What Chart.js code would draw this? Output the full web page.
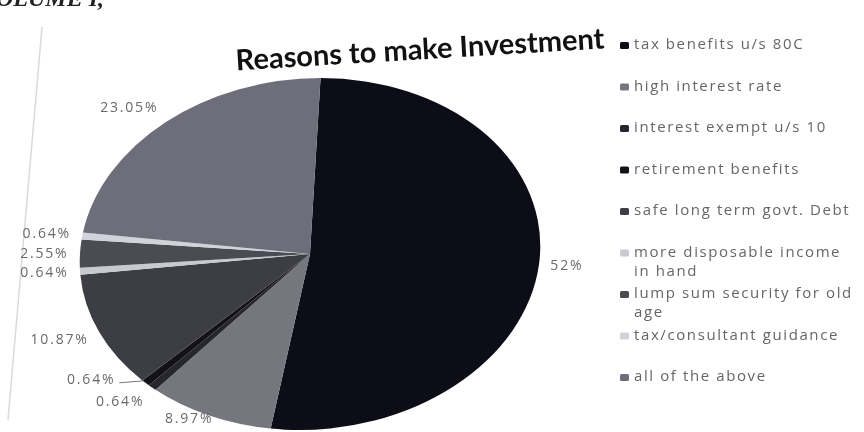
<!DOCTYPE html>
<html lang="en">
<head>
  <meta charset="UTF-8">
  <title>Reasons to make Investment</title>
  <script src="https://cdn.jsdelivr.net/npm/chart.js"></script>
  <style>
    body { margin: 0; background: #fff; }
    #wrap { width: 864px; height: 432px; position: relative; overflow: hidden; }
  </style>
</head>
<body>
  <div id="wrap"><canvas id="reasonChart" width="864" height="432"></canvas></div>

<script>
  // data (percent of respondents)
  const reasons = [
    'tax benefits u/s 80C',
    'high interest rate',
    'interest exempt u/s 10',
    'retirement benefits',
    'safe long term govt. Debt',
    ['more disposable income', 'in hand'],
    ['lump sum security for old', 'age'],
    'tax/consultant guidance',
    'all of the above'
  ];
  const shares = [52, 8.97, 0.64, 0.64, 10.87, 0.64, 2.55, 0.64, 23.05];
  const shades = ['#0d0d18', '#76767f', '#26262e', '#121218', '#3d3d46', '#c9c9d2', '#4b4b54', '#d2d2da', '#6e6e7b'];

  // the photo shows the pie squashed into a slanted ellipse
  const stretchX = 1.307;
  const slant = -0.06;

  function ellipsePoint(chart, angle, rad) {
    const a = chart.chartArea;
    const cx = (a.left + a.right) / 2, cy = (a.top + a.bottom) / 2;
    const dx = Math.cos(angle) * rad, dy = Math.sin(angle) * rad;
    return [cx + stretchX * dx + slant * dy, cy + dy];
  }

  const paper = {
    id: 'paper',
    beforeDraw(chart) {
      const ctx = chart.ctx;
      ctx.save();
      // page border line and cut-off running header
      ctx.strokeStyle = '#dadada';
      ctx.lineWidth = 1.5;
      ctx.beginPath();
      ctx.moveTo(42, 27);
      ctx.lineTo(8, 420);
      ctx.stroke();
      ctx.fillStyle = '#222';
      ctx.font = 'bold italic 24px "Liberation Serif"';
      ctx.fillText('OLUME I,', -4, 6);
      // title
      ctx.translate(420, 50);
      ctx.rotate(-0.06);
      ctx.font = 'bold 29px Lato';
      ctx.fillStyle = '#111';
      ctx.textAlign = 'center';
      ctx.textBaseline = 'middle';
      ctx.fillText('Reasons to make Investment', 0, 0);
      ctx.restore();
    }
  };

  const squash = {
    id: 'squash',
    beforeDatasetsDraw(chart) {
      const a = chart.chartArea, ctx = chart.ctx;
      const cx = (a.left + a.right) / 2, cy = (a.top + a.bottom) / 2;
      ctx.save();
      ctx.translate(cx, cy);
      ctx.transform(stretchX, 0, slant, 1, 0, 0);
      ctx.translate(-cx, -cy);
    },
    afterDatasetsDraw(chart) {
      chart.ctx.restore();
    }
  };

  const sliceLabels = {
    id: 'sliceLabels',
    afterDraw(chart) {
      const ctx = chart.ctx;
      const arcs = chart.getDatasetMeta(0).data;
      const placed = [];
      ctx.save();
      ctx.font = '14px "Open Sans"';
      ctx.letterSpacing = '1.8px';
      ctx.fillStyle = '#6a6a6a';
      ctx.textBaseline = 'middle';
      arcs.forEach((arc, i) => {
        const mid = (arc.startAngle + arc.endAngle) / 2;
        const c = Math.cos(mid), s = Math.sin(mid);
        let [x, y] = ellipsePoint(chart, mid, arc.outerRadius * 1.05);
        y += 10 * s;
        if (y > 419) {
          // no room below the pie: slide the label sideways instead
          x += (y - 419) * c / s * 2.5;
          y = 419;
        }
        const text = shares[i] + '%';
        const w = ctx.measureText(text).width;
        let align = 'center';
        if (c > 0.5) align = 'left';
        if (c < -0.5) align = 'right';
        const left = align === 'left' ? x : align === 'right' ? x - w : x - w / 2;
        let moved = false;
        placed.forEach(p => {
          if (Math.abs(p.x - left) < w && Math.abs(p.y - y) < 16) {
            y = p.y - 22;
            moved = true;
          }
        });
        placed.push({ x: left, y: y });
        ctx.textAlign = align;
        ctx.fillText(text, x - (moved ? 22 : 0), y);
        if (moved) {
          const edge = ellipsePoint(chart, mid, arc.outerRadius);
          ctx.strokeStyle = '#777';
          ctx.lineWidth = 1;
          ctx.beginPath();
          ctx.moveTo(left + w - 18, y + 3);
          ctx.lineTo(edge[0] - 2, edge[1] - 2);
          ctx.stroke();
        }
      });
      ctx.restore();
    }
  };

  const sideLegend = {
    id: 'sideLegend',
    afterDraw(chart) {
      const ctx = chart.ctx;
      ctx.save();
      ctx.font = '15px "Open Sans"';
      ctx.letterSpacing = '1.6px';
      ctx.textBaseline = 'middle';
      reasons.forEach((label, i) => {
        const y = 45 + i * 41.5;
        ctx.fillStyle = shades[i];
        ctx.beginPath();
        ctx.roundRect(620, y - 3, 9, 7, 1.5);
        ctx.fill();
        ctx.fillStyle = '#666';
        const lines = Array.isArray(label) ? label : [label];
        lines.forEach((t, j) => ctx.fillText(t, 634, y + j * 19));
      });
      ctx.restore();
    }
  };

  new Chart(document.getElementById('reasonChart'), {
    type: 'pie',
    data: {
      labels: reasons,
      datasets: [{
        data: shares,
        backgroundColor: shades,
        borderWidth: 0,
        clip: false
      }]
    },
    options: {
      responsive: false,
      animation: false,
      layout: { padding: { top: 78, bottom: 2, left: 134, right: 378 } },
      plugins: {
        legend: { display: false },
        title: { display: false },
        tooltip: { enabled: false }
      }
    },
    plugins: [paper, squash, sliceLabels, sideLegend]
  });
</script>
</body>
</html>
